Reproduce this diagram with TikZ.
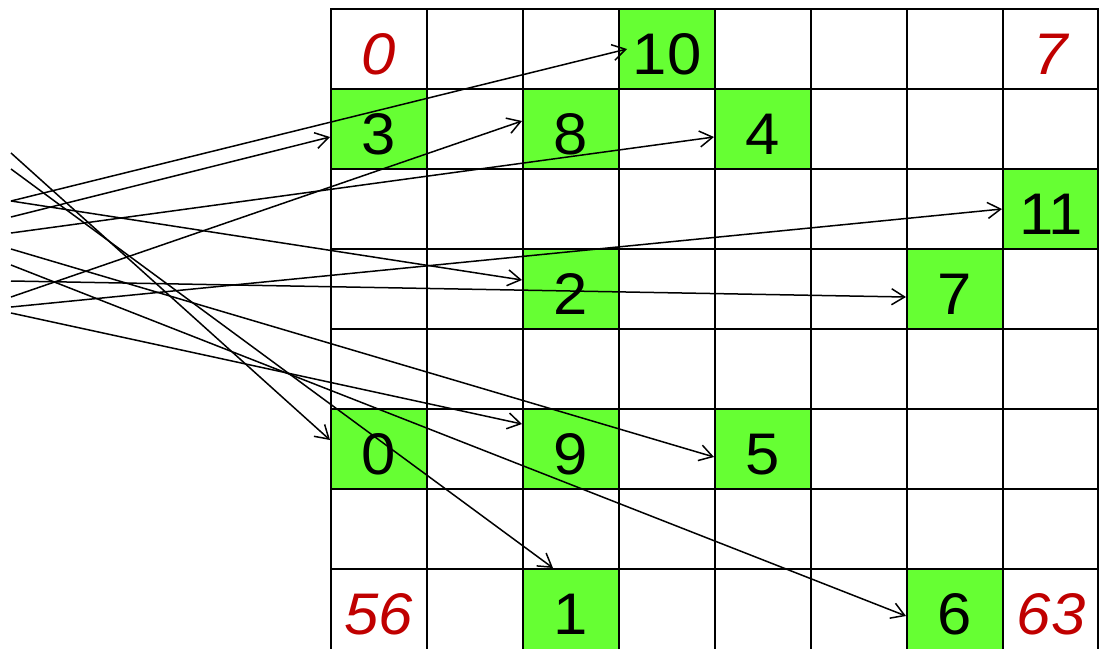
\documentclass[tikz,border=0pt]{standalone}
\usepackage{fontspec}
\setmainfont{Liberation Sans}
\newfontfamily\numfont[FakeStretch=1.05]{Liberation Sans}
\usetikzlibrary{arrows.meta}
\definecolor{cellgreen}{RGB}{102,255,51}
\definecolor{idxred}{RGB}{192,0,0}
\begin{document}
\begin{tikzpicture}[x=1pt,y=-1pt,
  cell/.style={fill=cellgreen, minimum width=96pt, minimum height=80pt, inner sep=0pt, outer sep=0pt, draw=none},
  num/.style={font=\numfont\fontsize{58.7}{60}\selectfont, inner sep=0pt, anchor=base},
  idx/.style={font=\numfont\itshape\fontsize{58.7}{60}\selectfont, text=idxred, inner sep=0pt, anchor=base},
  gridline/.style={line width=2pt, draw=black, line cap=rect},
  ptr/.style={line width=1.5pt, -{Straight Barb[length=13pt,width=16pt]}}]
\useasboundingbox (0,0) rectangle (1099,648);
\clip (0,0) rectangle (1099,648);
% green cells
\node[cell] (c10) at (667,49) {};
\node[cell] (c3) at (379,129) {};
\node[cell] (c8) at (571,129) {};
\node[cell] (c4) at (763,129) {};
\node[cell] (c11) at (1051,209) {};
\node[cell] (c2) at (571,289) {};
\node[cell] (c7) at (955,289) {};
\node[cell] (c0) at (379,449) {};
\node[cell] (c9) at (571,449) {};
\node[cell] (c5) at (763,449) {};
\node[cell] (c1) at (571,609) {};
\node[cell] (c6) at (955,609) {};
% grid
\foreach \x in {331,427,523,619,715,811,907,1003,1098}
  \draw[gridline] (\x,9) -- (\x,649);
\foreach \y in {9,89,169,249,329,409,489,569}
  \draw[gridline] (331,\y) -- (1098,\y);
% numbers
\node[num] (n10) at (667,74) {10};
\node[num] (n3) at (379,154) {3};
\node[num] (n8) at (571,154) {8};
\node[num] (n4) at (763,154) {4};
\node[num] (n11) at (1051,234) {11};
\node[num] (n2) at (571,314) {2};
\node[num] (n7) at (955,314) {7};
\node[num] (n0) at (379,474) {0};
\node[num] (n9) at (571,474) {9};
\node[num] (n5) at (763,474) {5};
\node[num] (n1) at (571,634) {1};
\node[num] (n6) at (955,634) {6};
% corner indices
\node[idx] (i0) at (379,74) {0};
\node[idx] (i7) at (1051,74) {7};
\node[idx] (i56) at (379,634) {56};
\node[idx] (i63) at (1051,634) {63};
% pointer starts and targets
\coordinate (s0) at (11,153);  \coordinate (t0) at (330,440);
\coordinate (s1) at (11,169);  \coordinate (t1) at (553,568);
\coordinate (s2) at (11,201);  \coordinate (t2) at (522,280);
\coordinate (s3) at (11,217);  \coordinate (t3) at (330,137);
\coordinate (s4) at (11,233);  \coordinate (t4) at (714,137);
\coordinate (s5) at (11,249);  \coordinate (t5) at (714,457);
\coordinate (s6) at (11,265);  \coordinate (t6) at (906,616);
\coordinate (s7) at (11,281);  \coordinate (t7) at (906,297);
\coordinate (s8) at (11,297);  \coordinate (t8) at (522,121);
\coordinate (s9) at (11,313);  \coordinate (t9) at (522,424);
\coordinate (s10) at (11,201); \coordinate (t10) at (627,49);
\coordinate (s11) at (11,307); \coordinate (t11) at (1002,209);
\foreach \k in {0,...,11}
  \draw[ptr] (s\k) -- (t\k);
\end{tikzpicture}
\end{document}
